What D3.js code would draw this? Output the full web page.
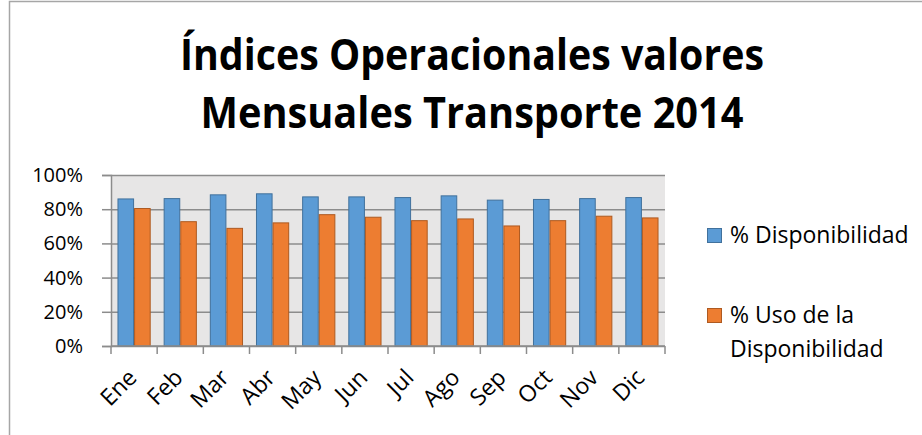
<html>
  <head>
    <meta charset="utf-8">
    <title>Índices Operacionales 2014</title>
    <script type="text/javascript" src="https://cdn.jsdelivr.net/npm/d3@7/dist/d3.min.js"></script>
    <style>
      body { margin: 0; background: #fff; }
      text { font-family: "Open Sans", "Noto Sans", sans-serif; fill: #000; }
    </style>
  </head>
  <body>
    <svg id="chart" width="922" height="435"></svg>
    <script type="text/javascript">
      // values (percent)
      var months = ["Ene", "Feb", "Mar", "Abr", "May", "Jun", "Jul", "Ago", "Sep", "Oct", "Nov", "Dic"];
      var disponibilidad = [86.0, 86.2, 88.4, 89.0, 87.2, 87.2, 86.8, 87.8, 85.3, 85.7, 86.2, 86.8];
      var usoDisponibilidad = [80.4, 72.7, 68.8, 72.0, 76.8, 75.3, 73.3, 74.3, 70.2, 73.3, 75.9, 74.9];
      var yTicks = [0, 20, 40, 60, 80, 100];
      var seriesNames = ["% Disponibilidad", "% Uso de la Disponibilidad"];
      var titleLines = ["Índices Operacionales valores", "Mensuales Transporte 2014"];

      drawChart();

      function drawChart() {
        var colors = ["#5b9bd5", "#ed7d31"],
            strokes = ["#41719c", "#ae5a21"];

        var svg = d3.select("#chart");

        // chart outer frame
        svg.append("rect")
          .attr("x", 9.5).attr("y", 1.5)
          .attr("width", 940).attr("height", 460)
          .attr("fill", "none")
          .attr("stroke", "#a6a6a6")
          .attr("stroke-width", 1.5);

        // title
        svg.append("g").selectAll("text")
          .data(titleLines)
          .enter().append("text")
            .attr("x", 472)
            .attr("y", function(d, i) { return 70 + i * 58; })
            .attr("text-anchor", "middle")
            .attr("font-size", 43)
            .attr("font-weight", "bold")
            .attr("textLength", function(d, i) { return i == 0 ? 584 : 543; })
            .attr("lengthAdjust", "spacingAndGlyphs")
            .text(function(d) { return d; });

        var pLeft = 111, pRight = 665, pTop = 175, pBottom = 346;

        var x = d3.scaleBand().domain(months).range([pLeft, pRight]);
        var x1 = d3.scaleBand().domain([0, 1]).range([0, x.bandwidth()]).paddingOuter(0.39);
        var y = d3.scaleLinear().domain([0, 100]).range([pBottom, pTop]);

        // plot background
        svg.append("rect")
          .attr("x", pLeft).attr("y", pTop)
          .attr("width", pRight - pLeft).attr("height", pBottom - pTop)
          .attr("fill", "#e7e6e6");

        // gridlines
        svg.append("g")
          .attr("transform", "translate(" + pLeft + ",0)")
          .call(d3.axisLeft(y).tickValues(yTicks).tickSize(-(pRight - pLeft)).tickFormat(""))
          .call(function(g) {
            g.select(".domain").remove();
            g.selectAll("line").attr("stroke", "#8c8c8c").attr("stroke-width", 1.5);
          });

        // bars
        var rows = months.map(function(m, i) { return [disponibilidad[i], usoDisponibilidad[i]]; });
        svg.append("g").selectAll("g")
          .data(rows)
          .enter().append("g")
            .attr("transform", function(d, i) { return "translate(" + x(months[i]) + ",0)"; })
          .selectAll("rect")
          .data(function(d) { return d; })
          .enter().append("rect")
            .attr("x", function(d, j) { return x1(j) + 0.5; })
            .attr("width", x1.bandwidth() - 1)
            .attr("y", function(d) { return y(d); })
            .attr("height", function(d) { return pBottom - y(d); })
            .attr("fill", function(d, j) { return colors[j]; })
            .attr("stroke", function(d, j) { return strokes[j]; })
            .attr("stroke-width", 1);

        // y axis
        svg.append("g")
          .attr("transform", "translate(" + pLeft + ",0)")
          .call(d3.axisLeft(y).tickValues(yTicks).tickSize(9).tickPadding(19)
            .tickFormat(function(d) { return d + "%"; }))
          .call(function(g) {
            g.select(".domain").attr("stroke", "#8c8c8c").attr("stroke-width", 1.5);
            g.selectAll("line").attr("stroke", "#8c8c8c").attr("stroke-width", 1.5);
            g.selectAll("text").attr("font-size", 20).attr("fill", "#000")
              .style("font-family", "'Open Sans', sans-serif");
          });

        // x axis: ticks at category boundaries
        var bounds = months.map(function(m) { return x(m); }).concat([pRight]);
        var xAxis = svg.append("g");
        xAxis.append("line")
          .attr("x1", pLeft).attr("x2", pRight)
          .attr("y1", pBottom).attr("y2", pBottom)
          .attr("stroke", "#8c8c8c").attr("stroke-width", 1.5);
        xAxis.selectAll("line.tick")
          .data(bounds)
          .enter().append("line")
            .attr("class", "tick")
            .attr("x1", function(d) { return d; }).attr("x2", function(d) { return d; })
            .attr("y1", pBottom).attr("y2", pBottom + 8)
            .attr("stroke", "#8c8c8c").attr("stroke-width", 1.5);
        xAxis.selectAll("text")
          .data(months)
          .enter().append("text")
            .attr("transform", function(d) {
              return "translate(" + (x(d) + x.bandwidth() / 2 + 4) + "," + (pBottom + 33) + ") rotate(-45)";
            })
            .attr("text-anchor", "end")
            .attr("font-size", 23)
            .text(function(d) { return d; });

        // legend
        var legend = svg.append("g");
        var legendY = [228, 308];
        legend.selectAll("rect")
          .data(seriesNames)
          .enter().append("rect")
            .attr("x", 707.5)
            .attr("y", function(d, i) { return legendY[i] + 0.5; })
            .attr("width", 14).attr("height", 14)
            .attr("fill", function(d, i) { return colors[i]; })
            .attr("stroke", function(d, i) { return strokes[i]; });
        legend.append("text")
          .attr("x", 730).attr("y", 243)
          .attr("font-size", 23)
          .text(seriesNames[0]);
        var t2 = legend.append("text")
          .attr("x", 730).attr("y", 323)
          .attr("font-size", 23);
        t2.append("tspan").attr("x", 730).text("% Uso de la");
        t2.append("tspan").attr("x", 730).attr("dy", 34).text("Disponibilidad");
      }
    </script>
  </body>
</html>
